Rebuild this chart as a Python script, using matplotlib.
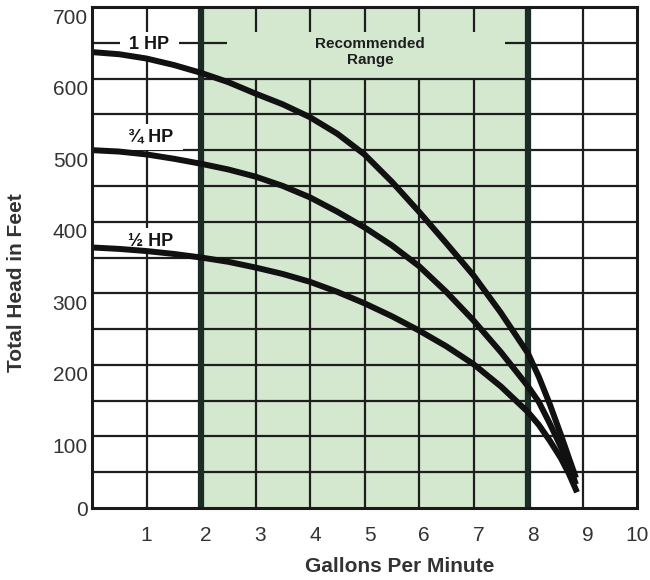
import matplotlib
matplotlib.use('Agg')
import matplotlib.pyplot as plt
import matplotlib.transforms as mtrans

plt.rcParams['font.family'] = ['Liberation Sans', 'DejaVu Sans']

# ---- data ----
gpm_1hp = [0, 0.5, 1, 1.5, 2, 2.5, 3, 3.5, 4, 4.5, 5, 5.5, 6, 6.5, 7, 7.5, 8,
           8.2, 8.4, 8.6, 8.75, 8.88]
head_1hp = [637, 634, 628, 619, 608, 595, 579, 564, 546, 523, 494, 456, 414, 370, 325, 273, 216,
            183, 145, 103, 70, 42]

gpm_34hp = [0, 0.5, 1, 1.5, 2, 2.5, 3, 3.5, 4, 4.5, 5, 5.5, 6, 6.5, 7, 7.5, 8,
            8.2, 8.4, 8.6, 8.75, 8.88]
head_34hp = [500, 498, 494, 488, 481, 473, 463, 450, 434, 414, 392, 367, 338, 302, 262, 218, 170,
             148, 118, 86, 60, 33]

gpm_12hp = [0, 0.5, 1, 1.5, 2, 2.5, 3, 3.5, 4, 4.5, 5, 5.5, 6, 6.5, 7, 7.5, 8,
            8.2, 8.4, 8.6, 8.75, 8.9]
head_12hp = [364, 362, 359, 355, 350, 344, 336, 327, 316, 302, 286, 268, 248, 226, 201, 170, 134,
             116, 94, 70, 48, 22]

x_ticks = [1, 2, 3, 4, 5, 6, 7, 8, 9, 10]
x_tick_labels = ['1', '2', '3', '4', '5', '6', '7', '8', '9', '10']
y_ticks = [0, 100, 200, 300, 400, 500, 600, 700]
y_tick_labels = ['0', '100', '200', '300', '400', '500', '600', '700']

range_lo, range_hi = 2, 8

series_labels = ['1 HP', '¾ HP', '½ HP']

# ---- figure ----
W, H = 650, 580
fig = plt.figure(figsize=(W / 100, H / 100), dpi=100)
ax = fig.add_axes([92 / W, 1 - 508 / H, (637 - 92) / W, (508 - 7) / H])
ax.set_xlim(0, 10)
ax.set_ylim(0, 700)

green = '#d4e8cf'
gcol = '#1e1e1e'
thick = '#1b2b25'
ax.axvspan(range_lo, range_hi, color=green, zorder=0, lw=0)

# vertical grid
for x in range(1, 10):
    if x in (range_lo, range_hi):
        ax.vlines(x, 0, 700, color=thick, lw=4.5, zorder=2)
    elif range_lo < x < range_hi:
        ax.vlines(x, 0, 600, color=gcol, lw=1.6, zorder=1)
        ax.vlines(x, 665, 700, color=gcol, lw=1.6, zorder=1)
    else:
        ax.vlines(x, 0, 700, color=gcol, lw=1.6, zorder=1)

# horizontal grid
for y in range(50, 700, 50):
    if y == 650:
        ax.hlines(y, 0, 2.48, color=gcol, lw=1.6, zorder=1)
        ax.hlines(y, 7.57, 10, color=gcol, lw=1.6, zorder=1)
    else:
        ax.hlines(y, 0, 10, color=gcol, lw=1.6, zorder=1)

for s in ax.spines.values():
    s.set_linewidth(2.2)
    s.set_color('#1a1a1a')
    s.set_zorder(5)

# curves
for gx, hy in [(gpm_1hp, head_1hp), (gpm_34hp, head_34hp), (gpm_12hp, head_12hp)]:
    ax.plot(gx, hy, color='#111111', lw=4.3, solid_capstyle='butt',
            solid_joinstyle='round', zorder=4)

# curve labels
lab_pos = [(1.05, 647), (1.08, 518), (1.08, 373)]
for (lx, ly), t in zip(lab_pos, series_labels):
    ax.text(lx, ly, ' ' + t + ' ', ha='center', va='center', fontsize=13,
            fontweight='bold', color='#151515', zorder=3,
            bbox=dict(boxstyle='square,pad=0.25', fc='white', ec='none'))

ax.text(5.1, 637, 'Recommended\nRange', ha='center', va='center', fontsize=11,
        fontweight='bold', color='#1e1e1e', linespacing=1.25, zorder=3)

# ticks
ax.set_xticks(x_ticks)
ax.set_xticklabels(x_tick_labels)
ax.set_yticks(y_ticks)
ax.set_yticklabels(y_tick_labels)
ax.tick_params(axis='both', length=0, labelsize=15, colors='#333333')
ax.tick_params(axis='x', pad=13)
ax.tick_params(axis='y', pad=3)

for i, lab in enumerate(ax.get_yticklabels()):
    if i > 0:
        lab.set_transform(lab.get_transform() +
                          mtrans.ScaledTranslation(0, -0.09, fig.dpi_scale_trans))
for i, lab in enumerate(ax.get_xticklabels()):
    if 0 < i < 9:
        lab.set_transform(lab.get_transform() +
                          mtrans.ScaledTranslation(0.05, 0, fig.dpi_scale_trans))

fig.text(400 / W, 1 - 567 / H, 'Gallons Per Minute', ha='center', va='center',
         fontsize=15, fontweight='bold', color='#333333')
fig.text(17 / W, 1 - 283 / H, 'Total Head in Feet', ha='center', va='center',
         rotation=90, fontsize=15, fontweight='bold', color='#333333')

fig.savefig('out.png', dpi=100)
